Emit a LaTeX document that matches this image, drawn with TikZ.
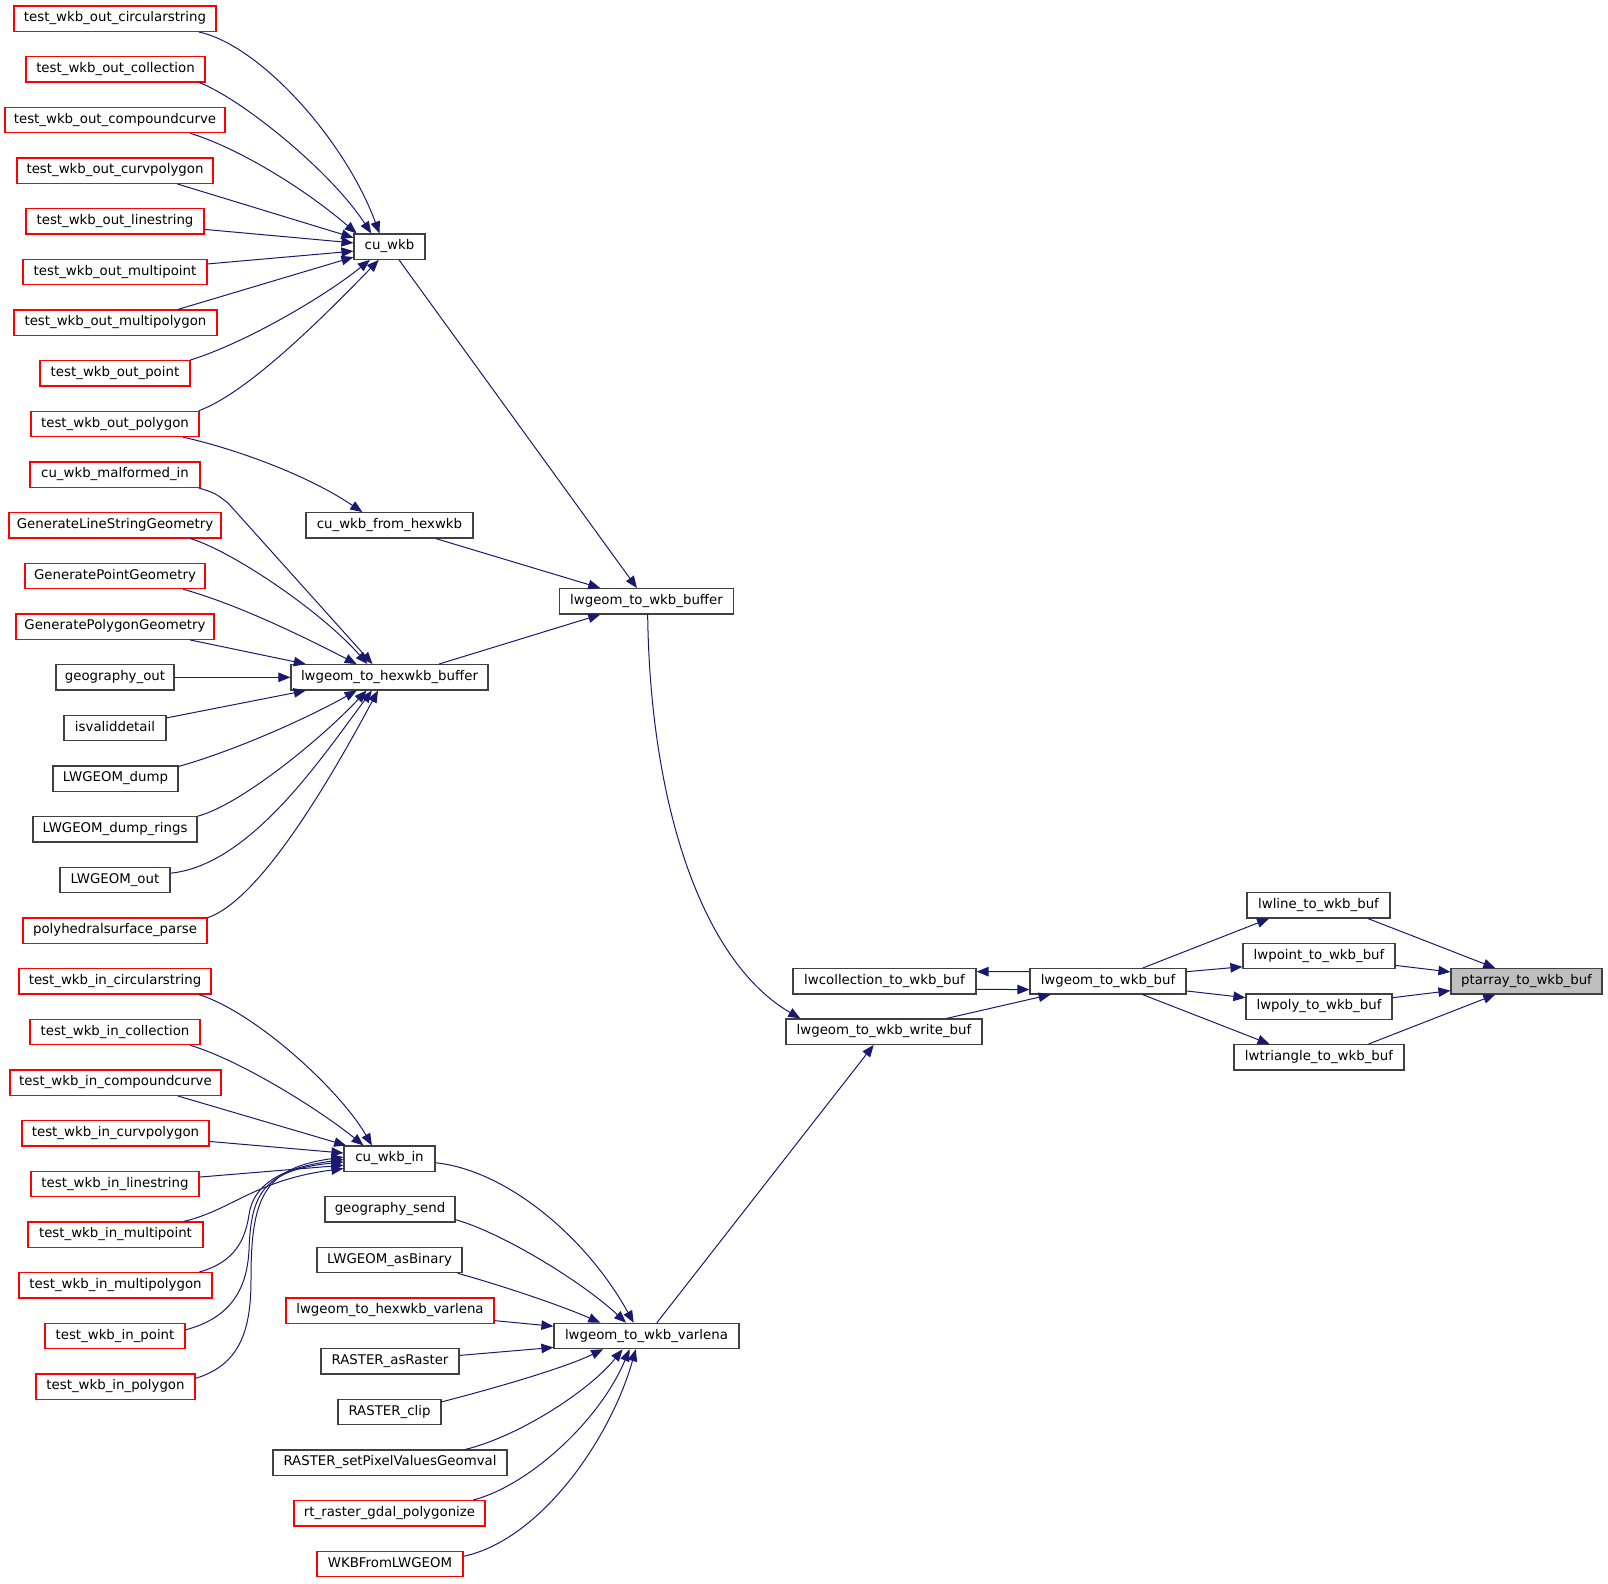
\documentclass[tikz,border=0pt]{standalone}
\usepackage{fontspec}
\setmainfont{DejaVu Sans}
\usetikzlibrary{arrows.meta}
\definecolor{bcol}{HTML}{404040}
\definecolor{rcol}{HTML}{FF0000}
\definecolor{ecol}{HTML}{191970}
\definecolor{gfill}{HTML}{BFBFBF}
\newcommand\fnt{\fontsize{13.33}{16}\selectfont}
\tikzset{
  box/.style={draw=bcol, line width=1.2pt, fill=white, rectangle, minimum height=25.3pt,
    inner sep=0pt, text height=9.7pt, text depth=3.7pt, font=\fnt},
  rbox/.style={box, draw=rcol},
  gbox/.style={box, fill=gfill},
  edge/.style={draw=ecol, line width=1pt, -{Triangle[length=12pt,width=9.5pt]}}
}
\begin{document}
\begin{tikzpicture}[x=1pt,y=-1pt]
\useasboundingbox (0,0) rectangle (1608,1583);
% left column
\node[rbox, minimum width=202pt] (n1) at (115,18.7) {test\_wkb\_out\_circularstring};
\node[rbox, minimum width=179pt] (n2) at (115.5,69.3) {test\_wkb\_out\_collection};
\node[rbox, minimum width=220pt] (n3) at (115,120) {test\_wkb\_out\_compoundcurve};
\node[rbox, minimum width=196pt] (n4) at (115,170.7) {test\_wkb\_out\_curvpolygon};
\node[rbox, minimum width=178pt] (n5) at (115,221.3) {test\_wkb\_out\_linestring};
\node[rbox, minimum width=184pt] (n6) at (115,272) {test\_wkb\_out\_multipoint};
\node[rbox, minimum width=203pt] (n7) at (115.5,322.7) {test\_wkb\_out\_multipolygon};
\node[rbox, minimum width=150pt] (n8) at (115,373.3) {test\_wkb\_out\_point};
\node[rbox, minimum width=168pt] (n9) at (115,424) {test\_wkb\_out\_polygon};
\node[rbox, minimum width=170pt] (n10) at (115,474.7) {cu\_wkb\_malformed\_in};
\node[rbox, minimum width=212pt] (n11) at (115,525.3) {GenerateLineStringGeometry};
\node[rbox, minimum width=180pt] (n12) at (115,576) {GeneratePointGeometry};
\node[rbox, minimum width=198pt] (n13) at (115,626.7) {GeneratePolygonGeometry};
\node[box, minimum width=118pt] (n14) at (115,677.3) {geography\_out};
\node[box, minimum width=102pt] (n15) at (115,728) {isvaliddetail};
\node[box, minimum width=125pt] (n16) at (115.5,778.7) {LWGEOM\_dump};
\node[box, minimum width=164pt] (n17) at (115,829.3) {LWGEOM\_dump\_rings};
\node[box, minimum width=110pt] (n18) at (115,880) {LWGEOM\_out};
\node[rbox, minimum width=184pt] (n19) at (115,930.7) {polyhedralsurface\_parse};
\node[rbox, minimum width=192pt] (n20) at (115,981.3) {test\_wkb\_in\_circularstring};
\node[rbox, minimum width=170pt] (n21) at (115,1032) {test\_wkb\_in\_collection};
\node[rbox, minimum width=211pt] (n22) at (115.5,1082.7) {test\_wkb\_in\_compoundcurve};
\node[rbox, minimum width=187pt] (n23) at (115.5,1133.3) {test\_wkb\_in\_curvpolygon};
\node[rbox, minimum width=168pt] (n24) at (115,1184) {test\_wkb\_in\_linestring};
\node[rbox, minimum width=175pt] (n25) at (115.5,1234.7) {test\_wkb\_in\_multipoint};
\node[rbox, minimum width=193pt] (n26) at (115.5,1285.3) {test\_wkb\_in\_multipolygon};
\node[rbox, minimum width=140pt] (n27) at (115,1336) {test\_wkb\_in\_point};
\node[rbox, minimum width=159pt] (n28) at (115.5,1386.7) {test\_wkb\_in\_polygon};
% second column
\node[box, minimum width=71pt] (cuwkb) at (389.5,246.7) {cu\_wkb};
\node[box, minimum width=167pt] (fromhex) at (389.5,525.3) {cu\_wkb\_from\_hexwkb};
\node[box, minimum width=197pt] (hexbuf) at (389.5,677.3) {lwgeom\_to\_hexwkb\_buffer};
\node[box, minimum width=91pt] (cuin) at (389.5,1158.7) {cu\_wkb\_in};
\node[box, minimum width=130pt] (gsend) at (390,1209.3) {geography\_send};
\node[box, minimum width=145pt] (asbin) at (389.5,1260) {LWGEOM\_asBinary};
\node[rbox, minimum width=208pt] (hexvar) at (390,1310.7) {lwgeom\_to\_hexwkb\_varlena};
\node[box, minimum width=138pt] (asraster) at (390,1361.3) {RASTER\_asRaster};
\node[box, minimum width=103pt] (clip) at (389.5,1412) {RASTER\_clip};
\node[box, minimum width=234pt] (setpix) at (390,1462.7) {RASTER\_setPixelValuesGeomval};
\node[rbox, minimum width=191pt] (gdal) at (389.5,1513.3) {rt\_raster\_gdal\_polygonize};
\node[rbox, minimum width=146pt] (wkbfrom) at (390,1564) {WKBFromLWGEOM};
% third column
\node[box, minimum width=174pt] (wkbbuffer) at (646.5,601.3) {lwgeom\_to\_wkb\_buffer};
\node[box, minimum width=185pt] (varlena) at (646.5,1336) {lwgeom\_to\_wkb\_varlena};
% fourth column
\node[box, minimum width=183pt] (lwcoll) at (884.5,981.3) {lwcollection\_to\_wkb\_buf};
\node[box, minimum width=196pt] (writebuf) at (884,1031.7) {lwgeom\_to\_wkb\_write\_buf};
% fifth
\node[box, minimum width=156pt] (wkbbuf) at (1108,981.3) {lwgeom\_to\_wkb\_buf};
% sixth
\node[box, minimum width=143pt] (lwline) at (1318.5,905.3) {lwline\_to\_wkb\_buf};
\node[box, minimum width=152pt] (lwpoint) at (1319,956) {lwpoint\_to\_wkb\_buf};
\node[box, minimum width=146pt] (lwpoly) at (1319,1006.7) {lwpoly\_to\_wkb\_buf};
\node[box, minimum width=170pt] (lwtri) at (1319,1057.3) {lwtriangle\_to\_wkb\_buf};
% root
\node[gbox, minimum width=151pt] (ptarray) at (1526.5,981.3) {ptarray\_to\_wkb\_buf};

% edges into cu_wkb
\draw[edge] (n1.-9) .. controls (260,45) and (345,140) .. (cuwkb.127);
\draw[edge] (n2.-9) .. controls (240,98) and (330,170) .. (cuwkb.144);
\draw[edge] (n3.-10) .. controls (235,147) and (300,185) .. (cuwkb.158);
\draw[edge] (n4.-12) -- (cuwkb.166);
\draw[edge] (n5) -- (cuwkb.174);
\draw[edge] (n6) -- (cuwkb.187);
\draw[edge] (n7.12) -- (cuwkb.196);
\draw[edge] (n8.10) .. controls (240,345) and (320,300) .. (cuwkb.214);
\draw[edge] (n9.9) .. controls (250,392) and (330,310) .. (cuwkb.231);
% cu_wkb side
\draw[edge] (cuwkb) -- (wkbbuffer);
\draw[edge] (n9.-11) .. controls (220,445) and (300,470) .. (fromhex.154);
\draw[edge] (fromhex.-16) -- (wkbbuffer.164);
\draw[edge] (hexbuf.15) -- (wkbbuffer.196);
% into lwgeom_to_hexwkb_buffer
\draw[edge] (n10.-9) .. controls (215,493) .. (228,503) -- (hexbuf.142);
\draw[edge] (n11.-10) .. controls (230,550) and (320,610) .. (hexbuf.149);
\draw[edge] (n12.-11) .. controls (240,605) and (310,640) .. (hexbuf.158);
\draw[edge] (n13.-10) -- (hexbuf.171);
\draw[edge] (n14) -- (hexbuf);
\draw[edge] (n15) -- (hexbuf.189);
\draw[edge] (n16.11) .. controls (230,752) and (300,722) .. (hexbuf.202);
\draw[edge] (n17.9) .. controls (240,805) and (320,740) .. (hexbuf.210);
\draw[edge] (n18.7) .. controls (250,865) and (320,760) .. (hexbuf.217);
\draw[edge] (n19.8) .. controls (260,900) and (330,780) .. (hexbuf.229);
% into cu_wkb_in
\draw[edge] (n20.-9) .. controls (255,1012) and (340,1090) .. (cuin.143);
\draw[edge] (n21.-10) .. controls (240,1060) and (320,1110) .. (cuin.153);
\draw[edge] (n22.-12) -- (cuin.163);
\draw[edge] (n23) -- (cuin.173);
\draw[edge] (n24) -- (cuin.188);
\draw[edge] (n25.11) .. controls (232,1210) and (255,1180) .. (cuin.192);
\draw[edge] (n26.9) .. controls (235,1262) and (245,1240) .. (249,1215) .. controls (253,1185) and (280,1168) .. (cuin.181);
\draw[edge] (n27.5) .. controls (230,1318) and (247,1290) .. (249,1250) .. controls (251,1195) and (262,1170) .. (cuin.184);
\draw[edge] (n28.6) .. controls (240,1365) and (251,1330) .. (251,1280) .. controls (251,1200) and (262,1168) .. (cuin.178);
% into lwgeom_to_wkb_varlena
\draw[edge] (cuin.-5) .. controls (505,1170) and (585,1235) .. (varlena.134);
\draw[edge] (gsend.-9) .. controls (500,1232) and (580,1280) .. (varlena.147);
\draw[edge] (asbin.-11) .. controls (500,1285) and (560,1305) .. (varlena.164);
\draw[edge] (hexvar) -- (varlena.174);
\draw[edge] (asraster) -- (varlena.187);
\draw[edge] (clip.11) .. controls (480,1392) and (560,1370) .. (varlena.197);
\draw[edge] (setpix.10) .. controls (520,1436) and (590,1390) .. (varlena.209);
\draw[edge] (gdal.9) .. controls (530,1485) and (600,1420) .. (varlena.218);
\draw[edge] (wkbfrom.6) .. controls (540,1540) and (610,1440) .. (varlena.231);
% middle
\draw[edge] (varlena) -- (writebuf);
\draw[edge] (wkbbuffer.-85) .. controls (650,800) and (700,960) .. (writebuf.171);
\draw[edge] (writebuf.12) -- (wkbbuf.193);
\draw[edge] (wkbbuf.173) -- (lwcoll.6);
\draw[edge] (lwcoll.-5) -- (wkbbuf.186);
% right
\draw[edge] (wkbbuf.21) -- (lwline.195);
\draw[edge] (wkbbuf.7) -- (lwpoint.188);
\draw[edge] (wkbbuf.-7) -- (lwpoly.173);
\draw[edge] (wkbbuf.-21) -- (lwtri.165);
\draw[edge] (lwline.-15) -- (ptarray.157);
\draw[edge] (lwpoint.-7) -- (ptarray.173);
\draw[edge] (lwpoly.7) -- (ptarray.187);
\draw[edge] (lwtri.15) -- (ptarray.203);
\end{tikzpicture}
\end{document}
